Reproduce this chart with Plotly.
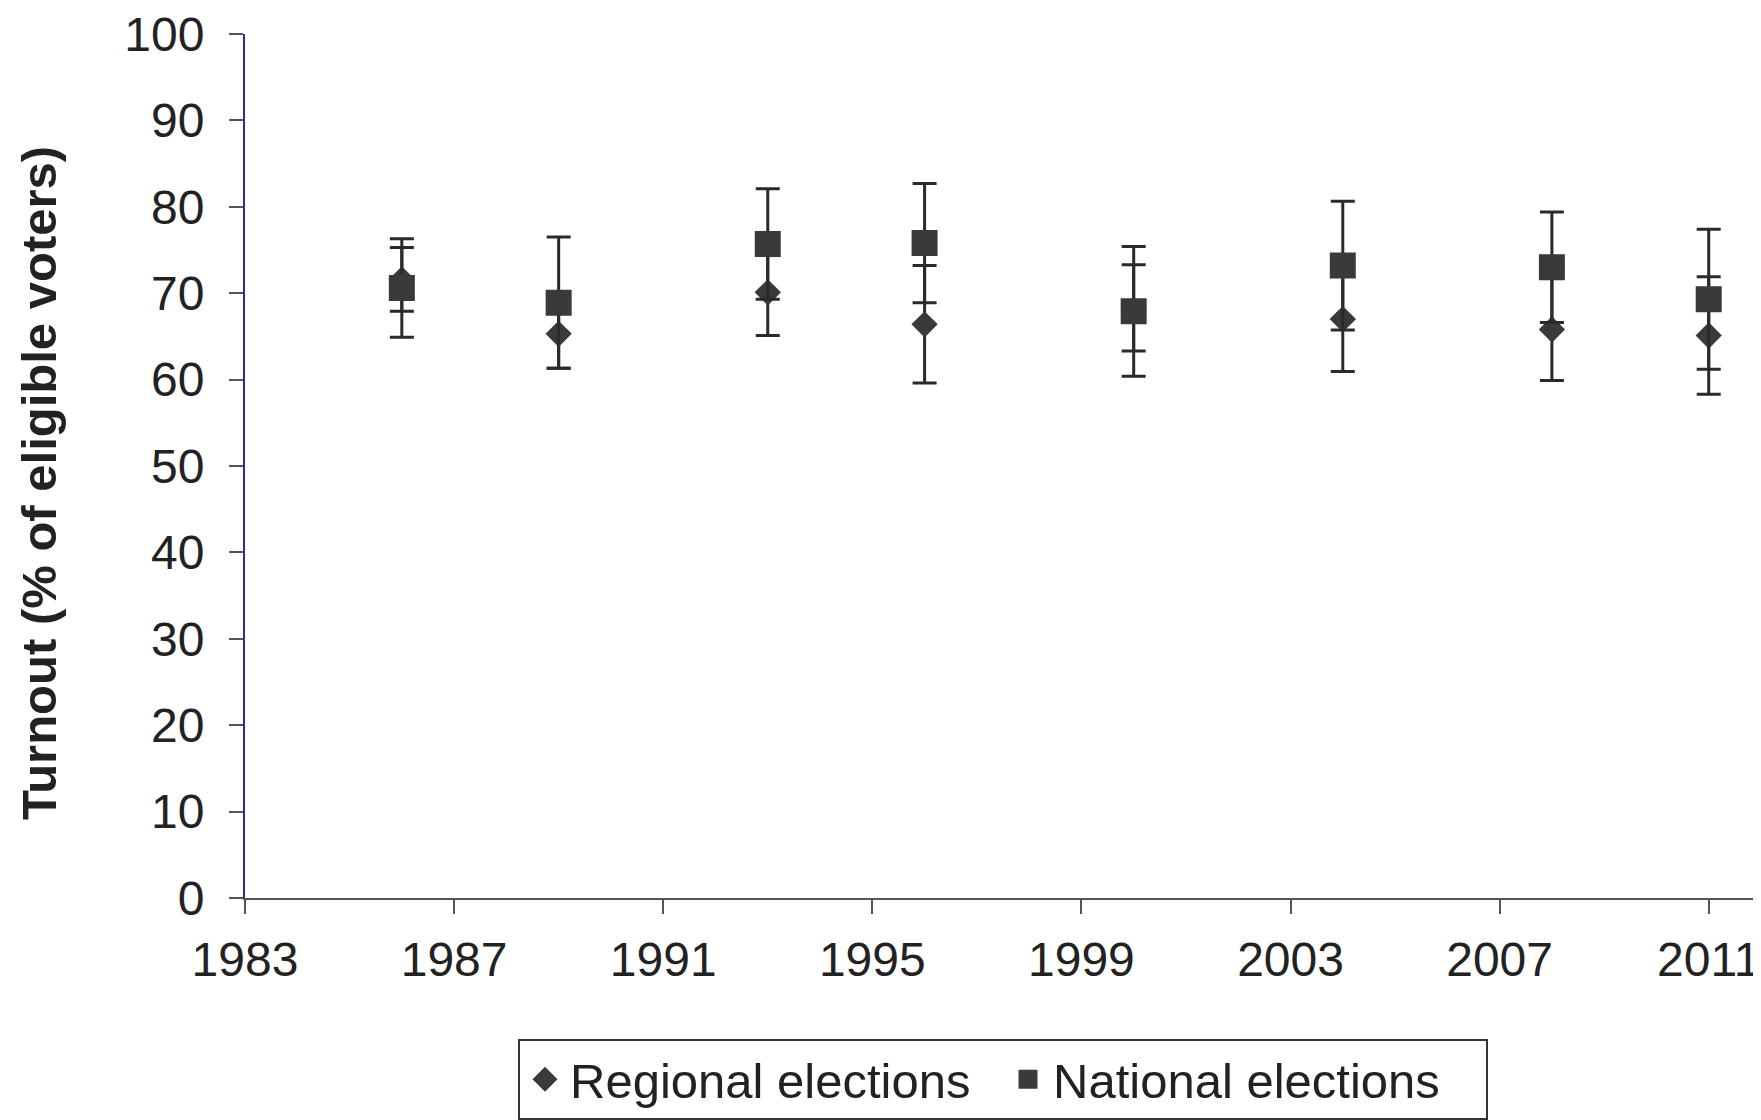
import plotly.graph_objects as go

# election years (x positions of the markers)
years = [1986, 1989, 1993, 1996, 2000, 2004, 2008, 2011]

# mean turnout and spread above / below
regional = [71.6, 65.3, 70.1, 66.4, 68.0, 67.0, 65.8, 65.1]
regional_up = [3.7, 4.0, 5.0, 6.8, 5.3, 6.05, 5.9, 6.8]
regional_down = [3.7, 4.0, 5.0, 6.8, 4.7, 6.05, 5.9, 6.8]
national = [70.6, 68.9, 75.7, 75.8, 67.9, 73.2, 73.0, 69.3]
national_err = [5.7, 7.6, 6.4, 6.9, 7.5, 7.45, 6.4, 8.1]

yticks = [0, 10, 20, 30, 40, 50, 60, 70, 80, 90, 100]
xticks = [1983, 1987, 1991, 1995, 1999, 2003, 2007, 2011]

font = "Liberation Sans, Arial, sans-serif"
ink = "#3a3a3a"

fig = go.Figure()
fig.add_trace(go.Scatter(
    x=years, y=regional, name="Regional elections", mode="markers",
    marker=dict(symbol="diamond", size=17, color=ink, line=dict(color=ink, width=3)),
    error_y=dict(type="data", array=regional_up, arrayminus=regional_down,
                 color="#2a2a2a", thickness=3, width=12),
))
fig.add_trace(go.Scatter(
    x=years, y=national, name="National elections", mode="markers",
    marker=dict(symbol="square", size=23, color=ink, line=dict(color=ink, width=3)),
    error_y=dict(type="data", array=national_err, color="#2a2a2a", thickness=3, width=12),
))

# the page body adds an 8px offset, so left/top margins are trimmed by 8
fig.update_layout(
    width=1761, height=1120,
    margin=dict(l=237, r=8, t=26, b=209),
    paper_bgcolor="white", plot_bgcolor="white",
    font=dict(family=font, size=48, color="#222"),
    showlegend=True,
    legend=dict(
        orientation="h", x=0.5, xanchor="center", y=-0.163, yanchor="top",
        bordercolor="#333", borderwidth=2, bgcolor="white",
        font=dict(size=49), itemsizing="trace", itemwidth=40,
        entrywidth=428,
    ),
    annotations=[dict(
        text="<b>Turnout (% of eligible voters)</b>", textangle=-90,
        xref="paper", yref="paper", x=-0.136, y=0.48,
        xanchor="center", yanchor="middle", showarrow=False,
        font=dict(size=49),
    )],
)
fig.update_xaxes(
    range=[1983, 2012], tickmode="array", tickvals=xticks,
    showgrid=False, zeroline=False, showline=True, linecolor="#555", linewidth=2,
    ticks="outside", ticklen=14, tickcolor="#555", tickwidth=2,
    ticklabelstandoff=4, ticklabeloverflow="allow", automargin=False,
)
fig.update_yaxes(
    range=[0, 100], tickmode="array", tickvals=yticks,
    showgrid=False, zeroline=False, showline=True, linecolor="#2b2b9a", linewidth=2,
    ticks="outside", ticklen=14, tickcolor="#555", tickwidth=2,
    ticklabelstandoff=15, ticklabeloverflow="allow", automargin=False,
)

fig.write_html("out.html")
